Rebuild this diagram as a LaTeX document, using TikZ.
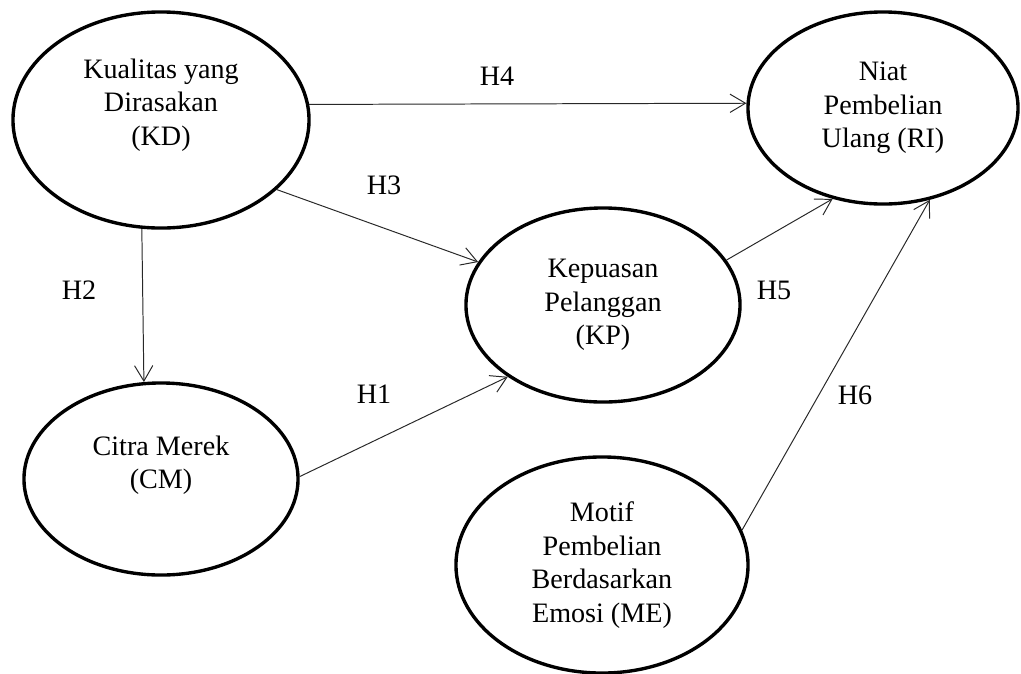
\documentclass[tikz,border=0pt]{standalone}
\usepackage{fontspec}
\setmainfont{Liberation Serif}
\usepackage{tikz}
\usetikzlibrary{arrows.meta,shapes.geometric}
\definecolor{PathLineColor}{RGB}{40,40,40}

\begin{document}
\begin{tikzpicture}[x=0.025cm,y=-0.025cm,font=\fontsize{20}{23.8}\selectfont,
  latent/.style n args={2}{ellipse,draw,line width=2.4pt,minimum width=#1*0.05cm,minimum height=#2*0.05cm,align=center,inner sep=0pt},
  hyp/.style={draw=PathLineColor,line width=0.7pt,-{Straight Barb[length=11pt,width=13pt]}}]
\useasboundingbox (0,0) rectangle (1021,673);
\node[latent={148}{108}](kd) at(161,120) {Kualitas yang\\Dirasakan\\(KD)\\[2pt]};
\node[latent={137}{96}](cm) at(161,479) {Citra Merek\\(CM)\\[0pt]};
\node[latent={137}{97}](kp) at(603,305) {Kepuasan\\Pelanggan\\(KP)};
\node[latent={146}{108}](me) at(602,565) {Motif\\Pembelian\\Berdasarkan\\Emosi (ME)};
\node[latent={135}{96}](ri) at(883,108) {Niat\\Pembelian\\Ulang (RI)};
\foreach \s/\t in %
{kd.6/ri.178,kd.329/kp.161,kd.260/cm.100,cm.1/kp.217,kp.20/ri.241,me.14/ri.297} {
   \draw[hyp] (\s) -- (\t);
}
\foreach \n/\x/\y in %
{H1/374/394,H2/79/290,H3/384/185,H4/497/76,H5/774/290,H6/855/395} {
   \node (lbl\n) at (\x,\y) {\n};
}
\end{tikzpicture}
\end{document}
